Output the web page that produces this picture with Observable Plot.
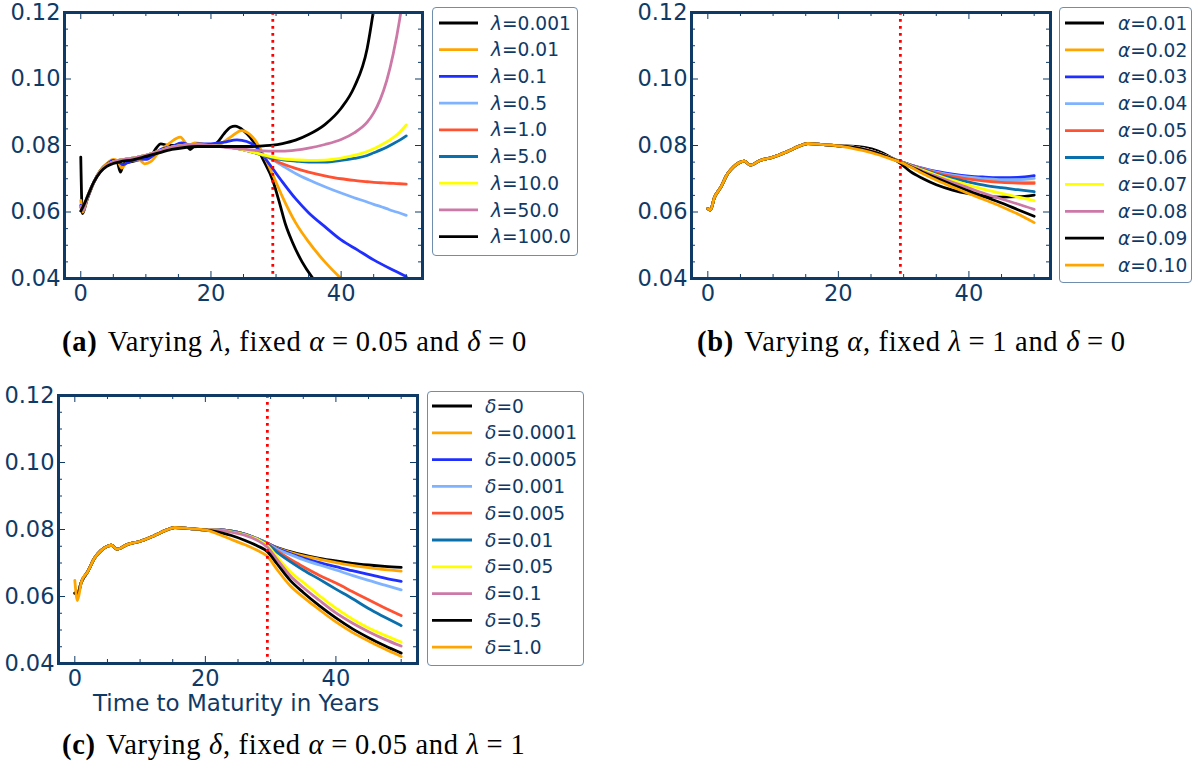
<!DOCTYPE html>
<html>
<head>
<meta charset="utf-8">
<script src="https://cdn.jsdelivr.net/npm/d3@7"></script>
<script src="https://cdn.jsdelivr.net/npm/@observablehq/plot@0.6"></script>
<style>
  html, body { margin: 0; padding: 0; background: #fff; }
  #root { position: relative; width: 1193px; height: 770px; overflow: hidden; background: #fff; }
  .panel { position: absolute; }
  .legend { position: absolute; box-sizing: border-box; border: 1.5px solid #6f8dad; border-radius: 4px; background: #fff; }
  .legend svg { display: block; }
  .caption { position: absolute; white-space: nowrap; font-family: "Liberation Serif", "DejaVu Serif", serif; font-size: 28.5px; line-height: 1; color: #000; letter-spacing: 0.7px; }
  .caption b { font-weight: bold; margin-right: 3px; }
  .caption .eq { margin: 0 7px; }
  .xlabel { position: absolute; white-space: nowrap; font-family: "DejaVu Sans", sans-serif; font-size: 23px; line-height: 1; }
</style>
</head>
<body>
<div id="root"></div>
<script>
// ---- shared axis settings -------------------------------------------------
const xMajor = [0, 20, 40];
const xMinor = [5, 10, 15, 25, 30, 35, 45, 50];
const yMajor = [0.04, 0.06, 0.08, 0.10, 0.12];
const yMinor = [0.045, 0.05, 0.055, 0.065, 0.07, 0.075, 0.085, 0.09, 0.095, 0.105, 0.11, 0.115];
const cutoffYears = 29.5;   // last liquid maturity (dotted marker)

const seriesColors = ["#000000", "#ffa500", "#1f2fff", "#80b3ff", "#ff5232", "#0a70ad", "#ffff00", "#cc79a7", "#000000", "#ffa500"];

// ---- panel (a): varying lambda ---------------------------------------------
const lambdaLabels = ["0.001", "0.01", "0.1", "0.5", "1.0", "5.0", "10.0", "50.0", "100.0"];

const lam0001T    = [0, 0.25, 1, 2, 3, 4, 5, 5.6, 6.1, 6.6, 8, 9.5, 10.7, 11.5, 12.3, 13.3, 15, 16.3, 16.8, 17.5, 20, 21, 22, 23, 23.7, 25, 26, 27, 28, 29.5, 30.5, 31.5, 32.5, 34, 35.5, 37];
const lam0001Rate = [0.0765, 0.0595, 0.0640, 0.0690, 0.0725, 0.0745, 0.0755, 0.0750, 0.0720, 0.0745, 0.0752, 0.0760, 0.0766, 0.0790, 0.0805, 0.0801, 0.0800, 0.0797, 0.0788, 0.0798, 0.0800, 0.0810, 0.0835, 0.0855, 0.0858, 0.0845, 0.0825, 0.0797, 0.0758, 0.0695, 0.0630, 0.0560, 0.0510, 0.0450, 0.0405, 0.0370];

const lam001T    = [0, 0.3, 1, 2, 3, 4, 5, 5.6, 6.3, 7, 8, 9, 9.8, 10.8, 12, 13.5, 15.3, 16.5, 17.5, 18.5, 20, 21.5, 23, 24.7, 26, 27, 28, 29.5, 31, 33, 35, 37.5, 40, 42];
const lam001Rate = [0.0635, 0.0600, 0.0638, 0.0688, 0.0725, 0.0745, 0.0758, 0.0755, 0.0732, 0.0748, 0.0755, 0.0757, 0.0745, 0.0752, 0.0780, 0.0805, 0.0825, 0.0800, 0.0808, 0.0806, 0.0797, 0.0805, 0.0825, 0.0845, 0.0833, 0.0810, 0.0775, 0.0712, 0.0645, 0.0568, 0.0510, 0.0450, 0.0400, 0.0365];

const lam01T    = [0, 0.3, 1, 2, 3, 4, 5, 5.7, 6.5, 7.5, 9, 10, 11, 12, 14, 15.5, 17, 18, 20, 22, 24, 25.5, 27, 28, 29.5, 31, 33, 35, 37.5, 40, 42.5, 45, 47.5, 50];
const lam01Rate = [0.0620, 0.0605, 0.0640, 0.0688, 0.0722, 0.0742, 0.0755, 0.0752, 0.0742, 0.0752, 0.0760, 0.0758, 0.0768, 0.0785, 0.0797, 0.0808, 0.0800, 0.0805, 0.0805, 0.0810, 0.0817, 0.0812, 0.0795, 0.0770, 0.0730, 0.0690, 0.0640, 0.0598, 0.0556, 0.0516, 0.0486, 0.0456, 0.0430, 0.0406];

// short end shared by the larger lambdas
const smoothT    = [0, 0.3, 1, 2, 3, 4, 5, 6, 8, 10, 12, 14, 16, 18, 20];
const smoothRate = [0.0615, 0.0606, 0.0645, 0.0690, 0.0722, 0.0741, 0.0751, 0.0756, 0.0762, 0.0770, 0.0783, 0.0795, 0.0801, 0.0802, 0.0800];
const lam100Front = [0.0603, 0.0614, 0.0645, 0.0690, 0.0720, 0.0737, 0.0746, 0.0751, 0.0757, 0.0767, 0.0778, 0.0788, 0.0794, 0.0797, 0.0797];

const lambdaTailT = [22, 24, 26, 28, 29.5, 31, 33, 35, 37.5, 40, 42, 44, 45, 46, 47, 48, 49, 50];
const lambdaTails = [
  [0.0797, 0.0791, 0.0782, 0.0771, 0.0757, 0.0739, 0.0716, 0.0697, 0.0676, 0.0657, 0.0643, 0.0630, 0.0623, 0.0617, 0.0610, 0.0603, 0.0597, 0.0590], // 0.5
  [0.0797, 0.0791, 0.0782, 0.0771, 0.0758, 0.0745, 0.0731, 0.0720, 0.0709, 0.0700, 0.0695, 0.0691, 0.0689, 0.0688, 0.0687, 0.0686, 0.0685, 0.0684], // 1.0
  [0.0797, 0.0791, 0.0782, 0.0771, 0.0762, 0.0757, 0.0753, 0.0750, 0.0750, 0.0755, 0.0761, 0.0770, 0.0778, 0.0786, 0.0795, 0.0805, 0.0816, 0.0829], // 5.0
  [0.0797, 0.0791, 0.0782, 0.0772, 0.0765, 0.0760, 0.0757, 0.0755, 0.0756, 0.0762, 0.0770, 0.0782, 0.0790, 0.0800, 0.0811, 0.0824, 0.0840, 0.0862], // 10.0
  [0.0795, 0.0791, 0.0787, 0.0784, 0.0783, 0.0783, 0.0786, 0.0792, 0.0803, 0.0818, 0.0838, 0.0870, 0.0898, 0.0938, 0.0995, 0.1075, 0.1180, 0.1320], // 50.0
  [0.0797, 0.0797, 0.0797, 0.0799, 0.0801, 0.0806, 0.0816, 0.0833, 0.0863, 0.0912, 0.0975, 0.1092, 0.1210, 0.1350, 0.1520, 0.1750, 0.2000, 0.2300]  // 100.0
];

// ---- panels (b) and (c): common short end -----------------------------------
const frontT    = [0, 0.4, 1, 2, 3, 4, 5, 5.6, 6.5, 8, 10, 12, 14, 15.3, 16.8, 20];
const frontRate = [0.0610, 0.0606, 0.0643, 0.0675, 0.0714, 0.0737, 0.0750, 0.0753, 0.0741, 0.0755, 0.0765, 0.0780, 0.0798, 0.0806, 0.0804, 0.0799];
const tailT = [22, 24, 26, 28, 29.5, 31, 33, 35, 37.5, 40, 42.5, 45, 47.5, 50];

// ---- panel (b): varying alpha ----------------------------------------------
const alphaLabels = ["0.01", "0.02", "0.03", "0.04", "0.05", "0.06", "0.07", "0.08", "0.09", "0.10"];
const alphaTails = [
  [0.0798, 0.0794, 0.0784, 0.0765, 0.0746, 0.0722, 0.0700, 0.0682, 0.0666, 0.0655, 0.0648, 0.0645, 0.0646, 0.0651],
  [0.0796, 0.0789, 0.0778, 0.0763, 0.0751, 0.0741, 0.0729, 0.0718, 0.0708, 0.0701, 0.0696, 0.0692, 0.0690, 0.0690],
  [0.0796, 0.0789, 0.0778, 0.0763, 0.0752, 0.0742, 0.0731, 0.0722, 0.0714, 0.0708, 0.0705, 0.0703, 0.0704, 0.0709],
  [0.0796, 0.0789, 0.0778, 0.0763, 0.0752, 0.0742, 0.0730, 0.0720, 0.0711, 0.0705, 0.0700, 0.0697, 0.0697, 0.0701],
  [0.0796, 0.0789, 0.0778, 0.0763, 0.0752, 0.0742, 0.0729, 0.0718, 0.0707, 0.0699, 0.0693, 0.0689, 0.0687, 0.0686],
  [0.0796, 0.0789, 0.0778, 0.0763, 0.0752, 0.0741, 0.0727, 0.0714, 0.0701, 0.0690, 0.0680, 0.0673, 0.0667, 0.0661],
  [0.0796, 0.0789, 0.0778, 0.0763, 0.0751, 0.0740, 0.0725, 0.0711, 0.0695, 0.0681, 0.0667, 0.0656, 0.0645, 0.0634],
  [0.0796, 0.0789, 0.0778, 0.0762, 0.0751, 0.0739, 0.0722, 0.0707, 0.0689, 0.0672, 0.0655, 0.0639, 0.0624, 0.0608],
  [0.0795, 0.0788, 0.0777, 0.0762, 0.0750, 0.0737, 0.0719, 0.0702, 0.0682, 0.0663, 0.0645, 0.0627, 0.0607, 0.0587],
  [0.0792, 0.0784, 0.0773, 0.0760, 0.0750, 0.0736, 0.0715, 0.0696, 0.0675, 0.0655, 0.0636, 0.0616, 0.0594, 0.0568]
];

// ---- panel (c): varying delta ----------------------------------------------
const deltaLabels = ["0", "0.0001", "0.0005", "0.001", "0.005", "0.01", "0.05", "0.1", "0.5", "1.0"];
const deltaOneStart = [0.0648, 0.0588];   // first two short-end points of delta = 1.0
const deltaTails = [
  [0.0799, 0.0795, 0.0786, 0.0772, 0.0759, 0.0746, 0.0734, 0.0724, 0.0714, 0.0706, 0.0699, 0.0694, 0.0690, 0.0687],
  [0.0799, 0.0795, 0.0786, 0.0772, 0.0759, 0.0745, 0.0732, 0.0721, 0.0711, 0.0701, 0.0693, 0.0686, 0.0680, 0.0676],
  [0.0799, 0.0795, 0.0786, 0.0772, 0.0759, 0.0743, 0.0728, 0.0715, 0.0701, 0.0689, 0.0677, 0.0666, 0.0655, 0.0645],
  [0.0799, 0.0795, 0.0786, 0.0772, 0.0758, 0.0741, 0.0725, 0.0710, 0.0694, 0.0679, 0.0663, 0.0648, 0.0634, 0.0620],
  [0.0799, 0.0795, 0.0786, 0.0771, 0.0757, 0.0736, 0.0711, 0.0689, 0.0663, 0.0640, 0.0615, 0.0590, 0.0566, 0.0543],
  [0.0799, 0.0795, 0.0786, 0.0771, 0.0756, 0.0732, 0.0704, 0.0679, 0.0651, 0.0622, 0.0594, 0.0564, 0.0538, 0.0513],
  [0.0798, 0.0793, 0.0785, 0.0770, 0.0752, 0.0718, 0.0674, 0.0642, 0.0602, 0.0565, 0.0533, 0.0506, 0.0484, 0.0464],
  [0.0798, 0.0792, 0.0783, 0.0767, 0.0747, 0.0710, 0.0662, 0.0627, 0.0588, 0.0551, 0.0521, 0.0495, 0.0472, 0.0452],
  [0.0792, 0.0782, 0.0768, 0.0751, 0.0734, 0.0697, 0.0648, 0.0612, 0.0572, 0.0536, 0.0504, 0.0477, 0.0453, 0.0431],
  [0.0786, 0.0770, 0.0755, 0.0737, 0.0720, 0.0680, 0.0632, 0.0598, 0.0560, 0.0524, 0.0493, 0.0467, 0.0443, 0.0421]
];

// ---- build long-form rows ---------------------------------------------------
const rowsOf = (series, ts, vs) => ts.map((t, i) => ({series, t, rate: vs[i]}));

const lambdaRows = [
  ...rowsOf(lambdaLabels[0], lam0001T, lam0001Rate),
  ...rowsOf(lambdaLabels[1], lam001T, lam001Rate),
  ...rowsOf(lambdaLabels[2], lam01T, lam01Rate),
  ...lambdaTails.flatMap((tail, i) =>
    rowsOf(lambdaLabels[3 + i], smoothT.concat(lambdaTailT),
      (lambdaLabels[3 + i] === "100.0" ? lam100Front : smoothRate).concat(tail)))
];

const alphaRows = alphaTails.flatMap((tail, i) =>
  rowsOf(alphaLabels[i], frontT.concat(tailT), frontRate.concat(tail)));

const deltaRows = deltaTails.flatMap((tail, i) => {
  const front = deltaLabels[i] === "1.0" ? deltaOneStart.concat(frontRate.slice(2)) : frontRate;
  return rowsOf(deltaLabels[i], frontT.concat(tailT), front.concat(tail));
});

// ---- drawing ----------------------------------------------------------------
const NAVY = "#0f3a66";
const root = document.getElementById("root");

function panel({rows, labels, left, top, marginLeft, frameW, frameH}) {
  const marginTop = 12, marginRight = 10, marginBottom = 44;
  const chart = Plot.plot({
    width: marginLeft + frameW + marginRight,
    height: marginTop + frameH + marginBottom,
    marginLeft, marginRight, marginTop, marginBottom,
    style: {fontFamily: "'DejaVu Sans', sans-serif", fontSize: "22.5px", color: NAVY, background: "transparent", overflow: "visible"},
    x: {domain: [-2.5, 52.5], label: null},
    y: {domain: [0.04, 0.12], label: null},
    color: {domain: labels, range: seriesColors.slice(0, labels.length)},
    marks: [
      Plot.line(rows, {x: "t", y: "rate", z: "series", stroke: "series", strokeWidth: 2.8,
        curve: "monotone-x", strokeLinejoin: "round", clip: true}),
      Plot.ruleX([cutoffYears], {stroke: "#ff0000", strokeWidth: 2.8, strokeDasharray: "2.8,4.2"}),
      // inward ticks on all four sides
      Plot.tickX(xMajor, {x: d => d, stroke: NAVY, insetTop: frameH - 7}),
      Plot.tickX(xMajor, {x: d => d, stroke: NAVY, insetBottom: frameH - 7}),
      Plot.tickX(xMinor, {x: d => d, stroke: NAVY, insetTop: frameH - 4}),
      Plot.tickX(xMinor, {x: d => d, stroke: NAVY, insetBottom: frameH - 4}),
      Plot.tickY(yMajor, {y: d => d, stroke: NAVY, insetRight: frameW - 7}),
      Plot.tickY(yMajor, {y: d => d, stroke: NAVY, insetLeft: frameW - 7}),
      Plot.tickY(yMinor, {y: d => d, stroke: NAVY, insetRight: frameW - 4}),
      Plot.tickY(yMinor, {y: d => d, stroke: NAVY, insetLeft: frameW - 4}),
      Plot.frame({stroke: NAVY, strokeWidth: 3}),
      Plot.axisX(xMajor, {tickSize: 0, tickPadding: 7, label: null}),
      Plot.axisY(yMajor, {tickSize: 0, tickPadding: 4, tickFormat: d => d.toFixed(2), label: null})
    ]
  });
  const holder = document.createElement("div");
  holder.className = "panel";
  holder.style.left = left + "px";
  holder.style.top = top + "px";
  holder.appendChild(chart);
  root.appendChild(holder);
  return chart;
}

function legend(chart, {symbol, labels, left, top, width, height, firstY, step, x1, x2, textX}) {
  const color = chart.scale("color");
  const box = document.createElement("div");
  box.className = "legend";
  Object.assign(box.style, {left: left + "px", top: top + "px", width: width + "px", height: height + "px"});
  const svg = d3.create("svg").attr("width", width - 3).attr("height", height - 3);
  labels.forEach((label, i) => {
    const y = firstY + i * step;
    svg.append("line").attr("x1", x1).attr("x2", x2).attr("y1", y).attr("y2", y)
      .attr("stroke", color.apply(label)).attr("stroke-width", 2.8);
    const text = svg.append("text").attr("x", textX).attr("y", y).attr("dy", "0.36em")
      .attr("fill", NAVY).style("font-family", "'DejaVu Sans', sans-serif").style("font-size", "18.6px");
    text.append("tspan").attr("font-style", "italic").text(symbol);
    text.append("tspan").text("=" + label);
  });
  box.appendChild(svg.node());
  root.appendChild(box);
}

function caption(html, left, top) {
  const div = document.createElement("div");
  div.className = "caption";
  div.style.left = left + "px";
  div.style.top = top + "px";
  div.innerHTML = html;
  root.appendChild(div);
}

const chartA = panel({rows: lambdaRows, labels: lambdaLabels, left: 0, top: 0, marginLeft: 64, frameW: 358, frameH: 266});
const chartB = panel({rows: alphaRows, labels: alphaLabels, left: 627, top: 0, marginLeft: 64, frameW: 359, frameH: 266});
const chartC = panel({rows: deltaRows, labels: deltaLabels, left: 0, top: 383, marginLeft: 58, frameW: 359, frameH: 268});

legend(chartA, {symbol: "λ", labels: lambdaLabels, left: 432, top: 7, width: 146, height: 249, firstY: 15, step: 26.7, x1: 6, x2: 45, textX: 58});
legend(chartB, {symbol: "α", labels: alphaLabels, left: 1059, top: 7, width: 133, height: 276, firstY: 15, step: 26.9, x1: 5, x2: 44, textX: 58});
legend(chartC, {symbol: "δ", labels: deltaLabels, left: 427, top: 391, width: 157, height: 275, firstY: 14, step: 26.8, x1: 4, x2: 44, textX: 57});

const xl = document.createElement("div");
xl.className = "xlabel";
xl.style.color = NAVY;
xl.textContent = "Time to Maturity in Years";
xl.style.left = "93px";
xl.style.top = "692px";
root.appendChild(xl);

caption("<b>(a)</b> Varying <i>λ</i>, fixed <i>α</i><span class='eq'>=</span>0.05 and <i>δ</i><span class='eq'>=</span>0", 62, 328);
caption("<b>(b)</b> Varying <i>α</i>, fixed <i>λ</i><span class='eq'>=</span>1 and <i>δ</i><span class='eq'>=</span>0", 697, 328);
caption("<b>(c)</b> Varying <i>δ</i>, fixed <i>α</i><span class='eq'>=</span>0.05 and <i>λ</i><span class='eq'>=</span>1", 62, 731);
</script>
</body>
</html>
